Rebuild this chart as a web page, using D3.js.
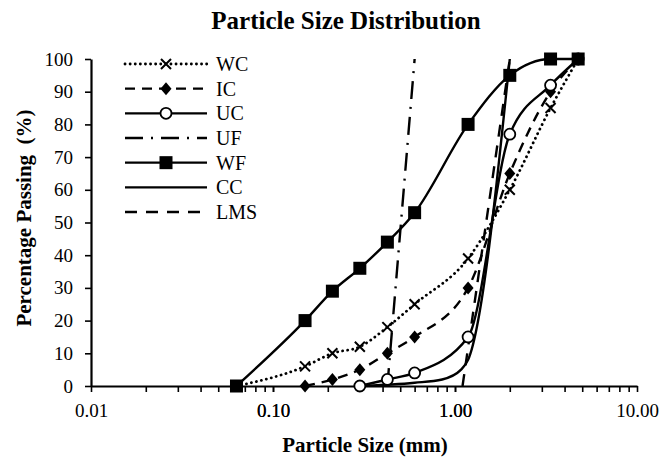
<!DOCTYPE html>
<html>
<head>
<meta charset="utf-8">
<script src="https://cdn.jsdelivr.net/npm/d3@7"></script>
<style>
  body { margin: 0; background: #fff; }
  svg { display: block; font-family: "Liberation Serif", "Times New Roman", serif; }
</style>
</head>
<body>
<svg id="svg"></svg>
<script>
/**
 * CONSTANTS AND GLOBALS
 * */
const width = 661,
  height = 460,
  margin = { top: 59, bottom: 74, left: 91, right: 24 };

// sieve sizes (mm) and percent passing
const wfSize = [0.063, 0.15, 0.212, 0.3, 0.425, 0.6, 1.18, 2, 3.35, 4.75];
const wfPass = [0, 20, 29, 36, 44, 53, 80, 95, 100, 100];
const wcSize = [0.063, 0.15, 0.212, 0.3, 0.425, 0.6, 1.18, 2, 3.35, 4.75];
const wcPass = [0, 6, 10, 12, 18, 25, 39, 60, 85, 100];
const icSize = [0.15, 0.212, 0.3, 0.425, 0.6, 1.18, 2, 3.35, 4.75];
const icPass = [0, 2, 5, 10, 15, 30, 65, 90, 100];
const ucSize = [0.3, 0.425, 0.6, 1.18, 2, 3.35, 4.75];
const ucPass = [0, 2, 4, 15, 77, 92, 100];
const ufSize = [0.425, 0.6];
const ufPass = [0, 100];
const ccSize = [0.3, 0.6, 0.85, 1.08, 1.18, 2];
const ccPass = [0, 1, 2, 5, 8, 100];
const lmsSize = [1.1, 2];
const lmsPass = [0, 100];

const seriesNames = ["WC", "IC", "UC", "UF", "WF", "CC", "LMS"];
const xTickValues = [0.01, 0.1, 1, 10];
const yTickValues = [0, 10, 20, 30, 40, 50, 60, 70, 80, 90, 100];

const zip = (s, p) => s.map((d, i) => ({ size: d, pass: p[i] }));

const series = [
  { name: "WC", data: zip(wcSize, wcPass), dash: "0.1,5", cap: "round", marker: "x" },
  { name: "IC", data: zip(icSize, icPass), dash: "10,7", cap: "butt", marker: "diamond" },
  { name: "UC", data: zip(ucSize, ucPass), dash: null, cap: "butt", marker: "circle" },
  { name: "UF", data: zip(ufSize, ufPass), dash: "18,8,2,8", cap: "butt", marker: null },
  { name: "WF", data: zip(wfSize, wfPass), dash: null, cap: "butt", marker: "square" },
  { name: "CC", data: zip(ccSize, ccPass), dash: null, cap: "butt", marker: null },
  { name: "LMS", data: zip(lmsSize, lmsPass), dash: "12,9", cap: "butt", marker: null },
];

const svg = d3.select("#svg")
  .attr("width", width)
  .attr("height", height);

const xScale = d3.scaleLog()
  .domain([0.01, 10])
  .range([margin.left, width - margin.right]);

const yScale = d3.scaleLinear()
  .domain([0, 100])
  .range([height - margin.bottom, margin.top]);

// axes
const xMinor = [];
[0.01, 0.1, 1].forEach(b => { for (let k = 1; k <= 10; k++) xMinor.push(b * k); });

const xAxis = svg.append("g")
  .attr("transform", `translate(0,${yScale(0)})`)
  .call(d3.axisBottom(xScale)
    .tickValues(xMinor)
    .tickSize(6)
    .tickSizeOuter(0)
    .tickFormat(d => xTickValues.some(t => Math.abs(t - d) < 1e-9) ? d3.format(".2f")(d) : ""));
xAxis.select(".domain").attr("stroke-width", 2.2);
xAxis.selectAll(".tick line").attr("stroke-width", 1.6);
xAxis.selectAll(".tick text")
  .attr("y", 18)
  .attr("dy", "0.71em")
  .attr("font-family", "Liberation Serif")
  .attr("font-size", 19);

const yAxis = svg.append("g")
  .attr("transform", `translate(${margin.left},0)`)
  .call(d3.axisLeft(yScale)
    .tickValues(yTickValues)
    .tickSize(6)
    .tickSizeOuter(0));
yAxis.select(".domain").attr("stroke-width", 2.2);
yAxis.selectAll(".tick line").attr("stroke-width", 1.6);
yAxis.selectAll(".tick text")
  .attr("x", -18)
  .attr("font-family", "Liberation Serif")
  .attr("font-size", 19);

// titles
svg.append("text")
  .attr("x", 346)
  .attr("y", 29)
  .attr("text-anchor", "middle")
  .attr("font-weight", "bold")
  .attr("font-size", 25)
  .text("Particle Size Distribution");

svg.append("text")
  .attr("x", 365)
  .attr("y", 452)
  .attr("text-anchor", "middle")
  .attr("font-weight", "bold")
  .attr("font-size", 21)
  .text("Particle Size (mm)");

svg.append("text")
  .attr("transform", "translate(31,218) rotate(-90)")
  .attr("text-anchor", "middle")
  .attr("font-weight", "bold")
  .attr("font-size", 21)
  .attr("xml:space", "preserve")
  .style("white-space", "pre")
  .text("Percentage Passing  (%)");

// lines
const line = d3.line()
  .x(d => xScale(d.size))
  .y(d => yScale(d.pass))
  .curve(d3.curveMonotoneX);

function drawMarker(g, type, x, y) {
  if (type === "square") {
    g.append("rect").attr("x", x - 6.5).attr("y", y - 6.5)
      .attr("width", 13).attr("height", 13).attr("fill", "#000");
  } else if (type === "circle") {
    g.append("circle").attr("cx", x).attr("cy", y).attr("r", 5.5)
      .attr("fill", "#fff").attr("stroke", "#000").attr("stroke-width", 1.8);
  } else if (type === "diamond") {
    g.append("path")
      .attr("d", `M${x},${y - 6.5}L${x + 5.5},${y}L${x},${y + 6.5}L${x - 5.5},${y}Z`)
      .attr("fill", "#000");
  } else if (type === "x") {
    g.append("path")
      .attr("d", `M${x - 5},${y - 5}L${x + 5},${y + 5}M${x - 5},${y + 5}L${x + 5},${y - 5}`)
      .attr("stroke", "#000").attr("stroke-width", 2).attr("fill", "none");
  }
}

const plot = svg.append("g");
series.forEach(s => {
  plot.append("path")
    .datum(s.data)
    .attr("d", line)
    .attr("fill", "none")
    .attr("stroke", "#000")
    .attr("stroke-width", s.cap === "round" ? 2.8 : 2.4)
    .attr("stroke-linecap", s.cap)
    .attr("stroke-dasharray", s.dash);
});
series.forEach(s => {
  if (!s.marker) return;
  const g = plot.append("g");
  s.data.forEach(d => drawMarker(g, s.marker, xScale(d.size), yScale(d.pass)));
});

// legend
const legend = svg.append("g");
const legendY = d3.scalePoint().domain(seriesNames).range([64, 212]);
series.forEach(s => {
  const y = legendY(s.name);
  legend.append("line")
    .attr("x1", 125).attr("x2", 207)
    .attr("y1", y).attr("y2", y)
    .attr("stroke", "#000")
    .attr("stroke-width", s.cap === "round" ? 2.8 : 2.4)
    .attr("stroke-linecap", s.cap)
    .attr("stroke-dasharray", s.dash);
  if (s.marker) drawMarker(legend, s.marker, 166, y);
  legend.append("text")
    .attr("x", 216)
    .attr("y", y + 7)
    .attr("font-size", 20)
    .text(s.name);
});
</script>
</body>
</html>
